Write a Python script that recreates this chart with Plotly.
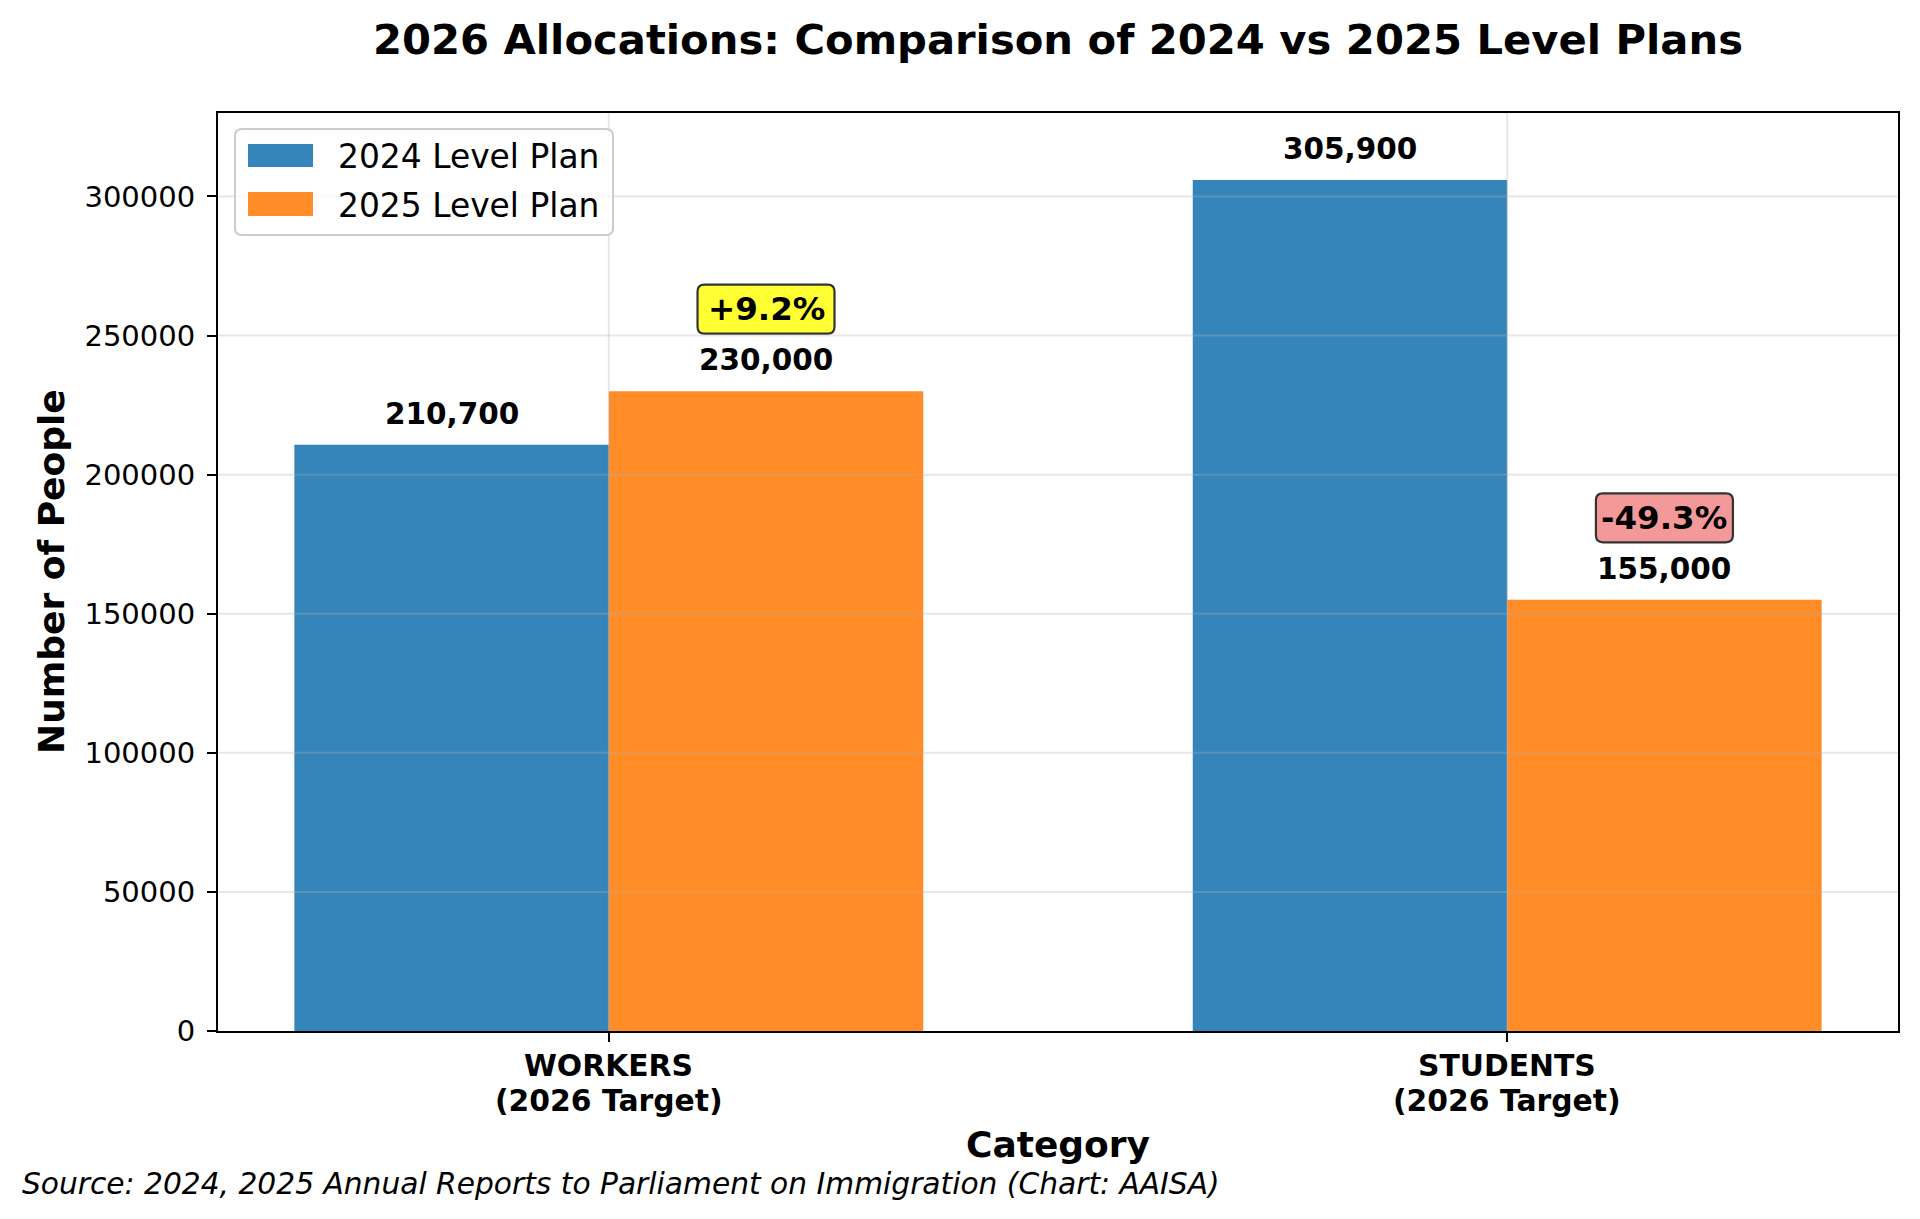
import plotly.graph_objects as go

# ---- data ----
categories = ["WORKERS", "STUDENTS"]
category_sub = ["(2026 Target)", "(2026 Target)"]
x_pos = [0, 1]
plan_2024 = [210700, 305900]
plan_2025 = [230000, 155000]
series_names = ["2024 Level Plan", "2025 Level Plan"]
pct_labels = ["+9.2%", "-49.3%"]
pct_colors = ["#FFFF33", "#F39999"]
y_ticks = [0, 50000, 100000, 150000, 200000, 250000, 300000]
y_max = 330000

BLUE = "#3585BB"
ORANGE = "#FF8C26"
FONT = "DejaVu Sans"
BAR_W = 0.35
OFF = 8  # browser body margin

W, H = 1920 - OFF, 1219 - OFF
ML, MT = 218 - OFF, 113 - OFF
PW, PH = 1680, 918
MR = W - ML - PW
MB = H - MT - PH


def px_x(p):
    return (p - 218) / PW


def px_y(p):
    return (1031 - p) / PH


fig = go.Figure()
fig.add_trace(go.Bar(x=x_pos, y=plan_2024, width=BAR_W, offset=-BAR_W,
                     marker=dict(color=BLUE, line=dict(width=0)),
                     name=series_names[0], showlegend=False))
fig.add_trace(go.Bar(x=x_pos, y=plan_2025, width=BAR_W, offset=0,
                     marker=dict(color=ORANGE, line=dict(width=0)),
                     name=series_names[1], showlegend=False))

annotations = []
shapes = []
# value labels
for xi, v in zip(x_pos, plan_2024):
    annotations.append(dict(x=xi - BAR_W / 2, y=v, xref="x", yref="y", text=f"<b>{v:,}</b>",
                            showarrow=False, yanchor="middle", yshift=31,
                            font=dict(family=FONT, size=29.5, color="black")))
for xi, v in zip(x_pos, plan_2025):
    annotations.append(dict(x=xi + BAR_W / 2, y=v, xref="x", yref="y", text=f"<b>{v:,}</b>",
                            showarrow=False, yanchor="middle", yshift=31,
                            font=dict(family=FONT, size=29.5, color="black")))
# percentage boxes (rounded)
bw, bh, cy, r = 68.5, 24.5, 82, 7
box_path = (f"M {-bw+r},{cy-bh} L {bw-r},{cy-bh} Q {bw},{cy-bh} {bw},{cy-bh+r} "
            f"L {bw},{cy+bh-r} Q {bw},{cy+bh} {bw-r},{cy+bh} L {-bw+r},{cy+bh} "
            f"Q {-bw},{cy+bh} {-bw},{cy+bh-r} L {-bw},{cy-bh+r} Q {-bw},{cy-bh} {-bw+r},{cy-bh} Z")
for xi, v, t, c in zip(x_pos, plan_2025, pct_labels, pct_colors):
    shapes.append(dict(type="path", path=box_path, xref="x", yref="y",
                       xsizemode="pixel", ysizemode="pixel",
                       xanchor=xi + BAR_W / 2, yanchor=v,
                       fillcolor=c, line=dict(color="#333333", width=2.2), layer="above"))
    annotations.append(dict(x=xi + BAR_W / 2, y=v, xref="x", yref="y", text=f"<b>{t}</b>",
                            showarrow=False, yanchor="middle", yshift=cy,
                            font=dict(family=FONT, size=32.5, color="black")))

# category tick labels (two lines)
for xi, c1, c2 in zip(x_pos, categories, category_sub):
    annotations.append(dict(x=xi, y=px_y(1065), xref="x", yref="paper", text=f"<b>{c1}</b>",
                            showarrow=False, xanchor="center", yanchor="middle",
                            font=dict(family=FONT, size=29.8, color="black")))
    annotations.append(dict(x=xi, y=px_y(1100), xref="x", yref="paper", text=f"<b>{c2}</b>",
                            showarrow=False, xanchor="center", yanchor="middle",
                            font=dict(family=FONT, size=29.8, color="black")))

# axis titles, source
annotations.append(dict(x=px_x(51), y=0.5, xref="paper", yref="paper", text="<b>Number of People</b>",
                        textangle=-90, showarrow=False, xanchor="center", yanchor="middle",
                        font=dict(family=FONT, size=36, color="black")))
annotations.append(dict(x=0.5, y=px_y(1144), xref="paper", yref="paper", text="<b>Category</b>",
                        showarrow=False, xanchor="center", yanchor="middle",
                        font=dict(family=FONT, size=36, color="black")))
annotations.append(dict(x=px_x(20), y=px_y(1183), xref="paper", yref="paper",
                        text="<i>Source: 2024, 2025 Annual Reports to Parliament on Immigration (Chart: AAISA)</i>",
                        showarrow=False, xanchor="left", yanchor="middle",
                        font=dict(family=FONT, size=29.7, color="black")))

# custom legend
annotations.append(dict(x=px_x(336), y=px_y(157), xref="paper", yref="paper", text=series_names[0],
                        showarrow=False, xanchor="left", yanchor="middle",
                        font=dict(family=FONT, size=32.9, color="black")))
annotations.append(dict(x=px_x(336), y=px_y(205), xref="paper", yref="paper", text=series_names[1],
                        showarrow=False, xanchor="left", yanchor="middle",
                        font=dict(family=FONT, size=32.9, color="black")))

# gridlines above bars (matplotlib style)
for yt in y_ticks[1:]:
    shapes.append(dict(type="line", xref="paper", yref="y", x0=0, x1=1, y0=yt, y1=yt,
                       line=dict(color="rgba(176,176,176,0.3)", width=2), layer="above"))
for xt in x_pos:
    shapes.append(dict(type="line", xref="x", yref="paper", x0=xt, x1=xt, y0=0, y1=1,
                       line=dict(color="rgba(176,176,176,0.3)", width=2), layer="above"))

# legend frame (rounded)
x0, x1, y0, y1 = px_x(235), px_x(613), px_y(235), px_y(129)
rx, ry = 7 / PW, 7 / PH
path = (f"M {x0+rx},{y0} L {x1-rx},{y0} Q {x1},{y0} {x1},{y0+ry} L {x1},{y1-ry} "
        f"Q {x1},{y1} {x1-rx},{y1} L {x0+rx},{y1} Q {x0},{y1} {x0},{y1-ry} "
        f"L {x0},{y0+ry} Q {x0},{y0} {x0+rx},{y0} Z")
shapes.append(dict(type="path", path=path, xref="paper", yref="paper",
                   fillcolor="rgba(255,255,255,0.8)", line=dict(color="#CCCCCC", width=2), layer="above"))
shapes.append(dict(type="rect", xref="paper", yref="paper", x0=px_x(248), x1=px_x(313),
                   y0=px_y(167), y1=px_y(144),
                   fillcolor=BLUE, line=dict(width=0), layer="above"))
shapes.append(dict(type="rect", xref="paper", yref="paper", x0=px_x(248), x1=px_x(313),
                   y0=px_y(216), y1=px_y(192),
                   fillcolor=ORANGE, line=dict(width=0), layer="above"))

fig.update_layout(
    width=W, height=H,
    margin=dict(l=ML, r=MR, t=MT, b=MB, pad=0),
    paper_bgcolor="white", plot_bgcolor="white",
    barmode="overlay",
    title=dict(text="<b>2026 Allocations: Comparison of 2024 vs 2025 Level Plans</b>",
               x=0.5, xref="paper", y=1 - (39 - OFF) / H, yref="container", yanchor="middle", xanchor="center",
               font=dict(family=FONT, size=41.7, color="black")),
    annotations=annotations,
    shapes=shapes,
    font=dict(family=FONT, color="black"),
)
fig.update_xaxes(range=[-0.435, 1.435], tickvals=x_pos, showticklabels=False,
                 showgrid=False, zeroline=False, showline=True, linecolor="black", linewidth=2, mirror=True,
                 ticks="outside", ticklen=9, tickwidth=2, tickcolor="black")
fig.update_yaxes(range=[0, y_max], tickvals=y_ticks, tickformat="d",
                 showgrid=False, zeroline=False, showline=True, linecolor="black", linewidth=2, mirror=True,
                 ticks="outside", ticklen=9, tickwidth=2, tickcolor="black", ticklabelstandoff=6,
                 tickfont=dict(family=FONT, size=29, color="black"))

fig.write_html("out.html")
